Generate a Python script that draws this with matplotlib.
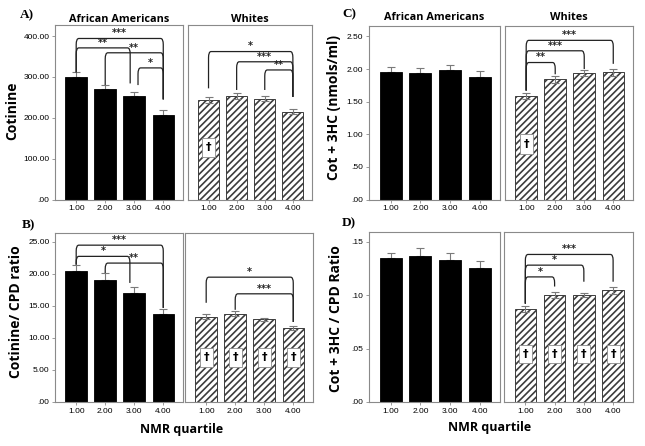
import matplotlib
matplotlib.use("Agg")
import matplotlib.pyplot as plt
import matplotlib.transforms as mtransforms
from matplotlib.path import Path
from matplotlib.patches import PathPatch, Rectangle
from matplotlib.ticker import FuncFormatter

W, H = 645, 446

quartiles = [1, 2, 3, 4]
quartile_labels = ["1.00", "2.00", "3.00", "4.00"]

# A) Cotinine
cot_aa = [300, 271, 254, 207]
cot_aa_err = [11, 10, 10, 11]
cot_w = [243, 253, 247, 215]
cot_w_err = [7, 8, 7, 6]

# B) Cotinine / CPD ratio
cot_cpd_aa = [20.5, 19.1, 17.0, 13.8]
cot_cpd_aa_err = [0.85, 1.05, 1.0, 0.8]
cot_cpd_w = [13.3, 13.8, 12.9, 11.55]
cot_cpd_w_err = [0.4, 0.4, 0.3, 0.35]

# C) Cot + 3HC
tne_aa = [1.96, 1.94, 1.98, 1.88]
tne_aa_err = [0.065, 0.075, 0.08, 0.09]
tne_w = [1.59, 1.84, 1.94, 1.95]
tne_w_err = [0.05, 0.06, 0.05, 0.05]

# D) Cot + 3HC / CPD
tne_cpd_aa = [0.1344, 0.1369, 0.1331, 0.125]
tne_cpd_aa_err = [0.0046, 0.0075, 0.0059, 0.0066]
tne_cpd_w = [0.0872, 0.0997, 0.100, 0.1044]
tne_cpd_w_err = [0.0028, 0.0028, 0.002, 0.0034]

# significance brackets: (left bar, right bar, line height, left leg end, right leg end, label)
cot_aa_sig = [(1, 4, 394, 311, 245, "***"), (1, 3, 371, 311, 284, "**"),
              (2, 4, 359, 280, 245, "**"), (3, 4, 322, 280, 245, "*")]
cot_w_sig = [(1, 4, 362, 272, 251, "*"), (2, 4, 337, 268, 251, "***"),
             (3, 4, 317, 268, 251, "**")]
cot_cpd_aa_sig = [(1, 4, 24.5, 21.45, 14.7, "***"), (1, 3, 22.75, 21.45, 18.6, "*"),
                  (2, 4, 21.7, 20.15, 14.7, "**")]
cot_cpd_w_sig = [(1, 4, 19.5, 15.5, 12.5, "*"), (2, 4, 16.9, 14.4, 12.5, "***")]
tne_w_sig = [(1, 2, 2.10, 1.67, 1.92, "**"), (1, 3, 2.28, 1.67, 2.0, "***"),
             (1, 4, 2.44, 1.67, 2.08, "***")]
tne_cpd_w_sig = [(1, 2, 0.117, 0.092, 0.108, "*"), (1, 3, 0.128, 0.092, 0.1125, "*"),
                 (1, 4, 0.138, 0.092, 0.1125, "***")]

# bars marked with a dagger
cot_w_dagger = [1]
cot_cpd_w_dagger = [1, 2, 3, 4]
tne_w_dagger = [1]
tne_cpd_w_dagger = [1, 2, 3, 4]

plt.rcParams["hatch.linewidth"] = 1.2
SPINE = "#8a8a8a"
LABEL_FONT = ["Open Sans", "DejaVu Sans"]
TICK_FONT = ["Liberation Sans", "DejaVu Sans"]

fig = plt.figure(figsize=(W / 100, H / 100), dpi=100)


def add_axes_px(x0, x1, y0, y1):
    return fig.add_axes([x0 / W, 1 - y1 / H, (x1 - x0) / W, (y1 - y0) / H])


def fig_text(x, y, s, **kw):
    fig.text(x / W, 1 - y / H, s, **kw)


def draw_bracket(ax, sig, top, nudge):
    i, j, h, lo1, lo2, label = sig
    x1 = i + nudge.get(("l", i), 0)
    x2 = j + nudge.get(("r", j), 0)
    rx, ry = 0.09, 0.035 * top
    verts = [(x1, lo1), (x1, h - ry), (x1, h), (x1 + rx, h), (x2 - rx, h),
             (x2, h), (x2, h - ry), (x2, lo2)]
    codes = [Path.MOVETO, Path.LINETO, Path.CURVE3, Path.CURVE3, Path.LINETO,
             Path.CURVE3, Path.CURVE3, Path.LINETO]
    ax.add_patch(PathPatch(Path(verts, codes), fill=False, lw=0.9,
                           edgecolor="#222222", zorder=4))
    ax.text((x1 + x2) / 2, h + 0.03 * top, label, ha="center", va="center",
            fontsize=7, fontweight="bold", color="#222222")


def style_axes(ax, top, yticks, show_y):
    ax.set_xlim(0.27, 4.68)
    ax.set_ylim(0, top)
    for sp in ax.spines.values():
        sp.set_color(SPINE)
        sp.set_linewidth(0.8)
    ax.set_xticks(quartiles)
    ax.set_xticklabels(quartile_labels, fontsize=6, family=TICK_FONT)
    ax.tick_params(axis="x", length=2.5, width=0.6, color=SPINE, pad=1.5)
    if show_y:
        ax.set_yticks(yticks)
        ax.yaxis.set_major_formatter(FuncFormatter(lambda v, p: f"{v:.2f}".lstrip("0") if v < 1 else f"{v:.2f}"))
        ax.tick_params(axis="y", length=2.5, width=0.6, color=SPINE, pad=1.5, labelsize=6)
        for t in ax.get_yticklabels():
            t.set_family(TICK_FONT)
    else:
        ax.set_yticks([])


def draw_panel(box_aa, box_w, top, yticks, aa, aa_err, w, w_err,
               aa_sig, w_sig, daggers, dag_y, dag_h, nudge_aa):
    ax1 = add_axes_px(*box_aa)
    ax2 = add_axes_px(*box_w)
    ax1.bar(quartiles, aa, width=0.74, color="black", edgecolor="black",
            linewidth=0.6, zorder=2)
    ax1.errorbar(quartiles, aa, yerr=[[0] * 4, aa_err], fmt="none",
                 ecolor="#7a7a7a", elinewidth=0.8, capsize=3, capthick=0.8, zorder=1)
    ax2.bar(quartiles, w, width=0.74, color="white", edgecolor="#3c3c3c",
            hatch="/////", linewidth=0.7, zorder=2)
    ax2.errorbar(quartiles, w, yerr=w_err, fmt="none",
                 ecolor="#7a7a7a", elinewidth=0.8, capsize=3, capthick=0.8, zorder=3)
    for sig in aa_sig:
        draw_bracket(ax1, sig, top, nudge_aa)
    for sig in w_sig:
        draw_bracket(ax2, sig, top, {})
    trans = mtransforms.blended_transform_factory(ax2.transData, ax2.transAxes)
    for b in daggers:
        ax2.add_patch(Rectangle((b - 0.22, dag_y - dag_h / 2), 0.44, dag_h,
                                transform=trans, facecolor="white",
                                edgecolor="#8a8a8a", lw=0.6, zorder=4))
        ax2.text(b, dag_y, "\u2020", transform=trans, ha="center", va="center",
                 fontsize=8, fontweight="bold", zorder=5)
    style_axes(ax1, top, yticks, True)
    style_axes(ax2, top, yticks, False)
    return ax1, ax2


# A
draw_panel((55, 183, 25, 199.5), (188, 312, 25, 199.5), 427, [0, 100, 200, 300, 400],
           cot_aa, cot_aa_err, cot_w, cot_w_err, cot_aa_sig, cot_w_sig,
           cot_w_dagger, 0.30, 0.11, {("r", 3): -0.14, ("l", 3): 0.13})
# B
draw_panel((55, 183, 233, 402), (185, 313, 233, 402), 26.4, [0, 5, 10, 15, 20, 25],
           cot_cpd_aa, cot_cpd_aa_err, cot_cpd_w, cot_cpd_w_err, cot_cpd_aa_sig,
           cot_cpd_w_sig, cot_cpd_w_dagger, 0.265, 0.11, {("r", 3): -0.15})
# C
draw_panel((369, 500, 26, 199.5), (505, 633, 26, 199.5), 2.66, [0, 0.5, 1, 1.5, 2, 2.5],
           tne_aa, tne_aa_err, tne_w, tne_w_err, [], tne_w_sig,
           tne_w_dagger, 0.32, 0.12, {})
# D
draw_panel((369, 500, 232, 402), (504, 633, 232, 402), 0.159, [0, 0.05, 0.10, 0.15],
           tne_cpd_aa, tne_cpd_aa_err, tne_cpd_w, tne_cpd_w_err, [], tne_cpd_w_sig,
           tne_cpd_w_dagger, 0.28, 0.107, {})

# panel letters
for x, y, s in [(20, 15, "A)"), (22, 225, "B)"), (342, 14, "C)"), (342, 223, "D)")]:
    fig_text(x, y, s, ha="left", va="center", fontsize=9.5, fontweight="bold",
             family=["Liberation Serif", "DejaVu Serif"])

# column titles
for x, y, s in [(119, 20, "African Americans"), (250, 20, "Whites"),
                (434, 18, "African Americans"), (569, 18, "Whites")]:
    fig_text(x, y, s, ha="center", va="center", fontsize=7.8, fontweight="bold",
             family=LABEL_FONT)

# y labels
for x, y, s in [(12, 111, "Cotinine"), (16, 312, "Cotinine/ CPD ratio"),
                (334, 108, "Cot + 3HC (nmols/ml)"), (336, 319, "Cot + 3HC / CPD Ratio")]:
    fig_text(x, y, s, ha="center", va="center", rotation=90, fontsize=10,
             fontweight="bold", family=LABEL_FONT)

# x labels
for x, y in [(182, 430), (490, 428)]:
    fig_text(x, y, "NMR quartile", ha="center", va="center", fontsize=9,
             fontweight="bold", family=LABEL_FONT)

fig.savefig("out.png", dpi=100)
